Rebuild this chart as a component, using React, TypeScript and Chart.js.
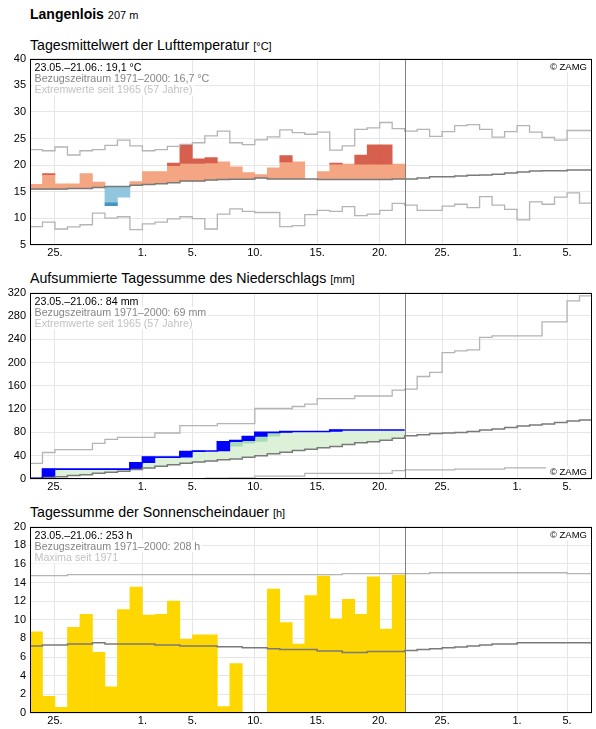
import React, { useEffect, useRef } from 'react';
import { Chart, registerables } from 'chart.js';

Chart.register(...registerables);

const FONT = "'Liberation Sans', Arial, Helvetica, sans-serif";
Chart.defaults.font.family = FONT;

// ---- x axis: day index 0 = 23.05., 45 days shown, 30 observed days ----
const dayCount = 45;
const observedDays = 30;
const xTickDays = [2, 9, 13, 18, 23, 28, 33, 39, 43];
const xTickLabels = ['25.', '1.', '5.', '10.', '15.', '20.', '25.', '1.', '5.'];

// ---- temperature (°C) ----
const tempValue = [16.4, 18.4, 16.5, 16.5, 18.4, 16.8, 12.4, 14.0, 16.9, 18.8, 18.8, 20.4, 23.7, 21.2, 21.4,
  20.6, 19.7, 18.6, 18.2, 19.5, 21.8, 20.6, 17.4, 18.8, 20.4, 20.2, 21.9, 23.8, 23.8, 20.2];
const tempWarmCap = [null, 18.2, null, null, null, null, null, null, null, null, null, 19.9, 20.3, 20.3, 20.4,
  null, null, null, null, null, 20.6, null, null, null, 20.2, null, 20.2, 20.2, 20.2, null];
const tempColdCap = [null, null, null, null, null, null, 12.9, null, null, null, null, null, null, null, null,
  null, null, null, null, null, null, null, null, null, null, null, null, null, null, null];
const tempMean = [15.5, 15.5, 15.5, 15.6, 15.6, 15.8, 16.0, 16.0, 16.2, 16.35, 16.5, 16.7, 17.0, 17.0, 17.2,
  17.3, 17.35, 17.35, 17.6, 17.4, 17.4, 17.4, 17.4, 17.3, 17.3, 17.3, 17.3, 17.3, 17.3, 17.4,
  17.4, 17.6, 17.8, 17.8, 17.95, 18.1, 18.15, 18.3, 18.5, 18.7, 18.9, 18.95, 18.95, 19.1, 19.1];
const tempMax = [22.9, 22.7, 23.4, 21.9, 22.7, 22.9, 23.7, 24.7, 23.6, 22.7, 22.9, 23.5, 23.9, 24.2, 25.5,
  26.4, 24.2, 23.85, 24.75, 25.3, 26.6, 26.1, 25.8, 26.2, 22.8, 23.6, 26.7, 27.0, 28.0, 26.85,
  26.4, 26.7, 25.4, 26.3, 27.4, 27.6, 26.7, 25.25, 26.3, 27.4, 26.2, 25.2, 24.7, 26.5, 26.5];
const tempMin = [8.45, 9.3, 8.0, 8.4, 8.8, 11.0, 10.05, 10.3, 7.9, 8.95, 9.3, 9.9, 10.3, 9.95, 8.0,
  10.8, 11.8, 11.3, 11.1, 11.1, 8.45, 8.65, 10.7, 11.5, 11.3, 12.2, 10.5, 10.8, 11.5, 12.8,
  12.5, 11.5, 11.5, 12.3, 12.65, 12.0, 14.1, 12.5, 11.7, 9.7, 13.1, 12.65, 14.0, 14.8, 12.85];

// ---- precipitation, cumulative (mm) ----
const precipActual = [1, 17, 17, 17, 17, 17, 17, 17, 28, 37.5, 37.5, 37.5, 47, 48, 48,
  64, 66, 73, 80, 80, 81.5, 81.5, 81.5, 81.5, 84, 84, 84, 84, 84, 84];
const precipShadeLow = [null, null, null, null, null, null, null, null, null, null, null, null, null, null, null,
  null, 56.5, 61.5, 64.5, 73.5, null, null, null, null, null, null, null, null, null, null];
const precipShadeHigh = [null, null, null, null, null, null, null, null, null, null, null, null, null, null, null,
  null, 64, 66, 73, 78.5, null, null, null, null, null, null, null, null, null, null];
const precipClim = [1.0, 2.4, 3.8, 6.0, 7.5, 10.0, 11.5, 13.5, 16.5, 19.0, 22.0, 24.5, 27.0, 29.0, 31.0,
  33.0, 34.5, 37.3, 40.0, 43.5, 46.0, 48.8, 51.2, 53.5, 55.9, 59.4, 62.4, 64.1, 66.5, 70.0,
  74.3, 76.0, 78.3, 78.9, 80.0, 81.7, 84.0, 85.7, 88.6, 90.9, 92.6, 94.3, 97.1, 99.4, 101.1];
const precipMax = [26.8, 45.5, 50.5, 50.5, 50.5, 61, 68, 71.5, 71.5, 71.5, 79, 79, 91.5, 91.5, 91.5,
  95, 95, 95, 121, 121, 121, 124.5, 128.6, 138, 138, 138, 142.5, 142.5, 142.5, 152.6,
  154.3, 176, 182.9, 217, 220, 221.7, 243, 245.7, 245.7, 245.7, 245.7, 269.7, 269.7, 305.7, 314.3];
const precipMin = [null, null, null, null, null, null, null, null, null, null, null, null, null, null, 1.5,
  1.5, 2, 2, 5, 5, 5, 5, 9.5, 9.5, 9.5, 9.5, 9.5, 9.5, 9.5, 14.5,
  15.5, 15.5, 15.5, 15.5, 17, 17, 17, 17, 19, 19, 19, 19, 19, 19, 19];

// ---- sunshine duration (h) ----
const sunValue = [8.7, 1.8, 0.6, 9.2, 10.6, 6.5, 2.8, 11.1, 13.5, 10.5, 10.6, 12.0, 7.9, 8.4, 8.4,
  0.7, 5.3, 0, 0, 13.3, 9.7, 7.4, 12.6, 14.7, 10.1, 12.2, 10.6, 14.6, 9.0, 14.8];
const sunMean = [7.2, 7.3, 7.3, 7.4, 7.4, 7.55, 7.4, 7.4, 7.4, 7.4, 7.3, 7.3, 7.2, 7.2, 7.2,
  7.1, 7.1, 7.0, 7.0, 6.9, 6.8, 6.8, 6.8, 6.65, 6.65, 6.5, 6.5, 6.6, 6.6, 6.6,
  6.7, 6.8, 6.9, 7.0, 7.07, 7.2, 7.3, 7.4, 7.4, 7.55, 7.55, 7.55, 7.55, 7.55, 7.55];
const sunMax = [14.75, 14.75, 14.75, 14.85, 14.85, 14.85, 14.85, 14.85, 14.85, 14.85, 14.85, 14.85, 14.85, 14.85, 14.85,
  14.85, 14.85, 14.85, 14.85, 14.85, 14.85, 14.85, 14.85, 14.85, 14.85, 14.95, 14.95, 14.95, 14.95, 14.95,
  14.95, 14.95, 15.05, 15.05, 15.05, 15.05, 15.05, 15.05, 15.05, 15.05, 15.05, 15.05, 15.05, 14.95, 14.95];

// ---- colours ----
const C_LIGHT = '#b4b4b4';
const C_DARK = '#7a7a7a';

function stepLine(values: (number | null)[]) {
  const pts: { x: number; y: number }[] = [];
  let last = -1;
  values.forEach((v, i) => {
    if (v === null || v === undefined) return;
    pts.push({ x: i, y: v });
    last = i;
  });
  if (last >= 0) pts.push({ x: last + 1, y: values[last] as number });
  return pts;
}

function lineDs(values: (number | null)[], color: string, width: number, order = 0) {
  return {
    type: 'line',
    data: stepLine(values),
    borderColor: color,
    borderWidth: width,
    pointRadius: 0,
    fill: false,
    stepped: true,
    order,
  };
}

function barDs(ranges: ({ x: number; y: [number, number] } | null)[], color: string, order: number) {
  return {
    type: 'bar',
    data: ranges.filter((r) => r !== null),
    backgroundColor: color,
    borderWidth: 0,
    grouped: false,
    categoryPercentage: 1,
    barPercentage: 1,
    order,
  };
}

function decorPlugin(lines: string[], zamg: 'top' | 'bottom') {
  return {
    id: 'decor',
    afterDatasetsDraw(chart: any) {
      const { ctx, chartArea: a, scales } = chart;
      ctx.save();
      const sx = Math.round(scales.x.getPixelForValue(observedDays)) + 0.5;
      ctx.strokeStyle = '#808080';
      ctx.lineWidth = 1;
      ctx.beginPath();
      ctx.moveTo(sx, a.top);
      ctx.lineTo(sx, a.bottom);
      ctx.stroke();

      ctx.font = `10.7px ${FONT}`;
      ctx.textBaseline = 'alphabetic';
      ctx.textAlign = 'left';
      const colors = ['#000000', '#858585', '#c2c2c2'];
      lines.forEach((t, i) => {
        const y = a.top + 12 + i * 11.3;
        const w = ctx.measureText(t).width;
        ctx.fillStyle = '#ffffff';
        ctx.fillRect(a.left + 2, y - 9, w + 4, 11.3);
        ctx.fillStyle = colors[i];
        ctx.fillText(t, a.left + 4.5, y);
      });

      ctx.font = `9.5px ${FONT}`;
      ctx.textAlign = 'right';
      const zt = '\u00a9 ZAMG';
      const zw = ctx.measureText(zt).width;
      const zy = zamg === 'top' ? a.top + 11 : a.bottom - 4;
      ctx.fillStyle = '#ffffff';
      ctx.fillRect(a.right - 5 - zw - 4, zy - 9, zw + 8, 12);
      ctx.fillStyle = '#000000';
      ctx.fillText(zt, a.right - 5, zy);

      ctx.strokeStyle = '#000000';
      ctx.lineWidth = 1;
      const l = Math.round(a.left), r = Math.round(a.right), t = Math.round(a.top), b = Math.round(a.bottom);
      ctx.strokeRect(l + 0.5, t + 0.5, r - l - 1, b - t - 1);
      ctx.restore();
    },
  };
}

function makeConfig(datasets: any[], yMin: number, yMax: number, yStep: number, lines: string[], zamg: 'top' | 'bottom') {
  return {
    type: 'bar',
    data: { datasets },
    options: {
      responsive: false,
      animation: false,
      events: [],
      layout: { padding: { top: 10, right: 4, left: 0, bottom: 0 } },
      plugins: { legend: { display: false }, tooltip: { enabled: false }, title: { display: false } },
      scales: {
        x: {
          type: 'linear',
          min: 0,
          max: dayCount,
          offset: false,
          grid: { color: '#e6e6e6', drawTicks: false, offset: false, lineWidth: 1 },
          border: { display: false },
          afterBuildTicks: (s: any) => {
            s.ticks = xTickDays.map((v) => ({ value: v }));
          },
          afterFit: (s: any) => {
            s.height = 16;
          },
          ticks: {
            autoSkip: false,
            maxRotation: 0,
            padding: 1,
            color: '#000',
            font: { size: 11, family: FONT },
            callback: (v: any) => {
              const k = xTickDays.indexOf(Number(v));
              return k >= 0 ? xTickLabels[k] : '';
            },
          },
        },
        y: {
          type: 'linear',
          min: yMin,
          max: yMax,
          beginAtZero: false,
          grid: { color: '#e6e6e6', drawTicks: false, lineWidth: 1 },
          border: { display: false },
          afterFit: (s: any) => {
            s.width = 30;
          },
          ticks: { stepSize: yStep, padding: 4, color: '#000', font: { size: 11, family: FONT } },
        },
      },
    },
    plugins: [decorPlugin(lines, zamg)],
  };
}

function tempConfig() {
  const orange = tempValue.map((v, i) => {
    const m = tempMean[i];
    if (!(v > m)) return null;
    const cap = tempWarmCap[i];
    return { x: i + 0.5, y: [m, cap !== null && cap < v ? cap : v] as [number, number] };
  });
  const red = tempValue.map((v, i) => {
    const cap = tempWarmCap[i];
    if (cap === null || !(v > cap)) return null;
    return { x: i + 0.5, y: [cap, v] as [number, number] };
  });
  const lightBlue = tempValue.map((v, i) => {
    const m = tempMean[i];
    if (!(v < m)) return null;
    const cap = tempColdCap[i];
    return { x: i + 0.5, y: [cap !== null && cap > v ? cap : v, m] as [number, number] };
  });
  const darkBlue = tempValue.map((v, i) => {
    const cap = tempColdCap[i];
    if (cap === null || !(v < cap)) return null;
    return { x: i + 0.5, y: [v, cap] as [number, number] };
  });
  const datasets = [
    lineDs(tempMean, C_DARK, 1.5, 0),
    lineDs(tempMax, C_LIGHT, 1.3, 0),
    lineDs(tempMin, C_LIGHT, 1.3, 0),
    barDs(red, '#d6604d', 1),
    barDs(orange, '#f4a582', 1),
    barDs(darkBlue, '#4393c3', 1),
    barDs(lightBlue, '#92c5de', 1),
  ];
  return makeConfig(datasets, 5, 40, 5, [
    '23.05.\u201321.06.: 19,1 \u00b0C',
    'Bezugszeitraum 1971\u20132000: 16,7 \u00b0C',
    'Extremwerte seit 1965 (57 Jahre)',
  ], 'top');
}

function precipConfig() {
  const green = precipActual.map((a, i) => {
    const c = precipClim[i];
    if (!(a > c)) return null;
    return { x: i + 0.5, y: [c, a] as [number, number] };
  });
  const shade = precipShadeLow.map((lo, i) => {
    const hi = precipShadeHigh[i];
    if (lo === null || hi === null) return null;
    return { x: i + 0.5, y: [lo, hi] as [number, number] };
  });
  const blocks = precipActual.map((a, i) => {
    const prev = i > 0 ? precipActual[i - 1] : 0;
    if (!(a > prev)) return null;
    return { x: i + 0.5, y: [prev, a] as [number, number] };
  });
  const datasets = [
    lineDs(precipActual, '#0000ff', 1.6, 0),
    lineDs(precipClim, C_DARK, 1.5, 0),
    lineDs(precipMax, C_LIGHT, 1.3, 0),
    lineDs(precipMin, C_LIGHT, 1.3, 0),
    barDs(blocks, '#0000ff', 1),
    barDs(shade, '#a8dcb4', 2),
    barDs(green, '#dcf1d8', 3),
  ];
  return makeConfig(datasets, 0, 320, 40, [
    '23.05.\u201321.06.: 84 mm',
    'Bezugszeitraum 1971\u20132000: 69 mm',
    'Extremwerte seit 1965 (57 Jahre)',
  ], 'bottom');
}

function sunConfig() {
  const bars = sunValue.map((v, i) => (v > 0 ? { x: i + 0.5, y: [0, v] as [number, number] } : null));
  const datasets = [
    lineDs(sunMean, C_DARK, 1.5, 0),
    lineDs(sunMax, C_LIGHT, 1.3, 0),
    barDs(bars, '#ffd700', 1),
  ];
  return makeConfig(datasets, 0, 20, 2, [
    '23.05.\u201321.06.: 253 h',
    'Bezugszeitraum 1971\u20132000: 208 h',
    'Maxima seit 1971',
  ], 'top');
}

function Panel({ top, build }: { top: number; build: () => any }) {
  const ref = useRef<HTMLCanvasElement | null>(null);
  useEffect(() => {
    if (!ref.current) return;
    const chart = new Chart(ref.current, build());
    return () => chart.destroy();
  }, []);
  return (
    <canvas
      ref={ref}
      width={596}
      height={213}
      style={{ position: 'absolute', left: 0, top, width: 596, height: 213 }}
    />
  );
}

function Title({ top, text, unit }: { top: number; text: string; unit: string }) {
  return (
    <div
      style={{
        position: 'absolute',
        left: 30,
        top,
        fontFamily: FONT,
        fontSize: 14.2,
        lineHeight: '16px',
        color: '#000',
        whiteSpace: 'nowrap',
      }}
    >
      {text} <span style={{ fontSize: 11 }}>{unit}</span>
    </div>
  );
}

export default function App() {
  return (
    <div
      style={{
        position: 'absolute',
        left: 0,
        top: 0,
        width: 596,
        height: 729,
        overflow: 'hidden',
        background: '#fff',
      }}
    >
      <div
        style={{
          position: 'absolute',
          left: 30,
          top: 6,
          fontFamily: FONT,
          fontSize: 14,
          lineHeight: '16px',
          fontWeight: 'bold',
          color: '#000',
          whiteSpace: 'nowrap',
        }}
      >
        Langenlois <span style={{ fontSize: 11, fontWeight: 'normal' }}>207 m</span>
      </div>
      <Title top={36.5} text="Tagesmittelwert der Lufttemperatur" unit="[°C]" />
      <Title top={270} text="Aufsummierte Tagessumme des Niederschlags" unit="[mm]" />
      <Title top={504} text="Tagessumme der Sonnenscheindauer" unit="[h]" />
      <Panel top={48} build={tempConfig} />
      <Panel top={282} build={precipConfig} />
      <Panel top={516} build={sunConfig} />
    </div>
  );
}
